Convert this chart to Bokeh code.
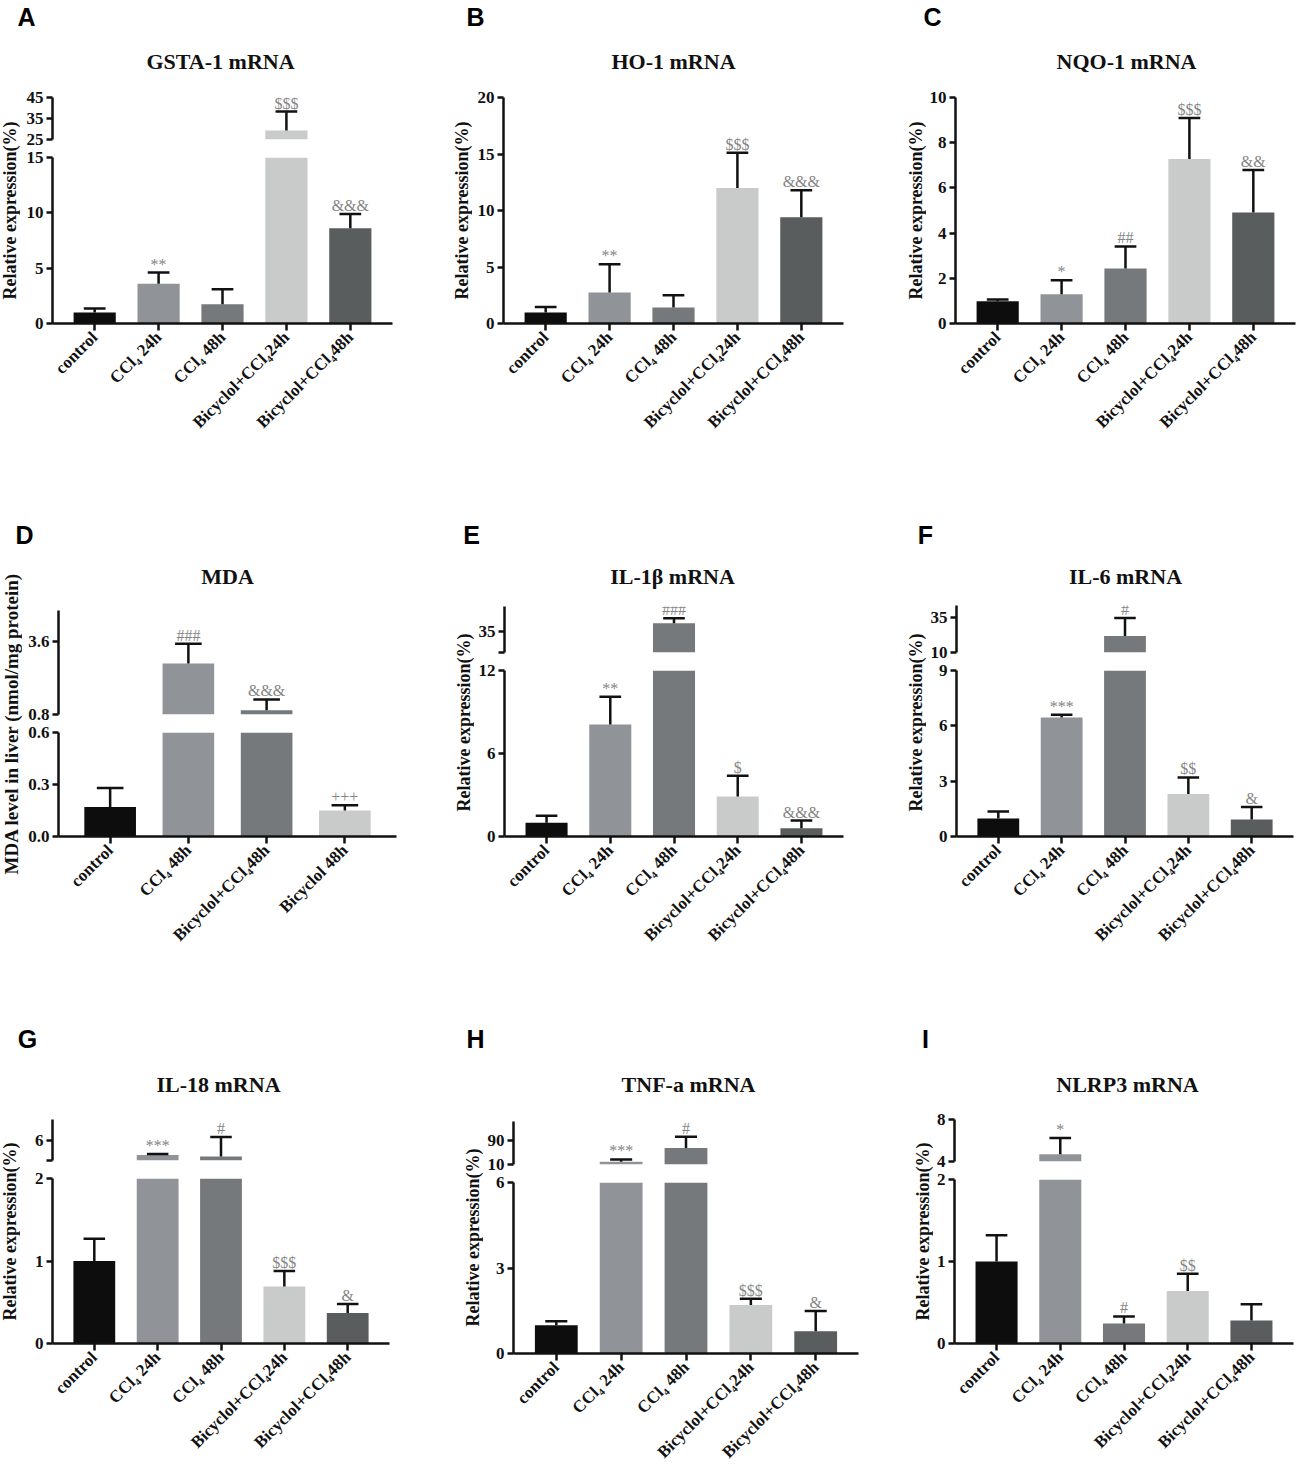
from math import pi
from bokeh.plotting import figure
from bokeh.models import Range1d, FixedTicker, Label, LabelSet, ColumnDataSource
from bokeh.core.properties import value
from bokeh.layouts import row, column
from bokeh.embed import file_html
from bokeh.resources import INLINE

# ---------------- data ----------------
S4 = "\u2084"
groups5 = ["control", f"CCl{S4} 24h", f"CCl{S4} 48h", f"Bicyclol+CCl{S4}24h", f"Bicyclol+CCl{S4}48h"]
groups_mda = ["control", f"CCl{S4} 48h", f"Bicyclol+CCl{S4}48h", "Bicyclol 48h"]
colors5 = ["#0d0d0d", "#909397", "#76797b", "#c9cbca", "#595d5e"]
colors_mda = ["#0d0d0d", "#909397", "#76797b", "#c9cbca"]

gsta_mean = [1.0, 3.6, 1.75, 29.3, 8.6]
gsta_sd = [0.35, 1.0, 1.35, 9.0, 1.3]
gsta_marks = ["", "**", "", "$$$", "&&&"]

ho1_mean = [0.97, 2.74, 1.41, 12.0, 9.41]
ho1_sd = [0.5, 2.5, 1.09, 3.1, 2.39]
ho1_marks = ["", "**", "", "$$$", "&&&"]

nqo1_mean = [0.99, 1.29, 2.43, 7.28, 4.91]
nqo1_sd = [0.07, 0.62, 0.98, 1.81, 1.88]
nqo1_marks = ["", "*", "##", "$$$", "&&"]

mda_mean = [0.17, 2.76, 0.96, 0.15]
mda_sd = [0.11, 0.76, 0.42, 0.03]
mda_marks = ["", "###", "&&&", "+++"]

il1b_mean = [1.0, 8.1, 37.0, 2.9, 0.6]
il1b_sd = [0.5, 2.0, 1.2, 1.5, 0.55]
il1b_marks = ["", "**", "###", "$", "&&&"]

il6_mean = [0.98, 6.45, 21.9, 2.3, 0.92]
il6_sd = [0.38, 0.15, 13.1, 0.9, 0.68]
il6_marks = ["", "***", "#", "$$", "&"]

il18_mean = [1.0, 4.54, 4.38, 0.69, 0.37]
il18_sd = [0.27, 0.1, 1.92, 0.19, 0.11]
il18_marks = ["", "***", "#", "$$$", "&"]

tnfa_mean = [0.99, 19.0, 66.0, 1.7, 0.78]
tnfa_sd = [0.14, 8.0, 37.5, 0.22, 0.71]
tnfa_marks = ["", "***", "#", "$$$", "&"]

nlrp3_mean = [1.0, 4.7, 0.245, 0.64, 0.28]
nlrp3_sd = [0.32, 1.54, 0.085, 0.21, 0.2]
nlrp3_marks = ["", "*", "#", "$$", ""]

# axis segments: (range, ticks, tick labels)
gsta_lower = ((0, 15), [0, 5, 10, 15], ["0", "5", "10", "15"])
gsta_upper = ((25, 45), [25, 35, 45], ["25", "35", "45"])
ho1_lower = ((0, 20), [0, 5, 10, 15, 20], ["0", "5", "10", "15", "20"])
nqo1_lower = ((0, 10), [0, 2, 4, 6, 8, 10], ["0", "2", "4", "6", "8", "10"])
mda_lower = ((0, 0.6), [0, 0.3, 0.6], ["0.0", "0.3", "0.6"])
mda_upper = ((0.8, 4.8), [0.8, 3.6], ["0.8", "3.6"])
il1b_lower = ((0, 12), [0, 6, 12], ["0", "6", "12"])
il1b_upper = ((30, 41), [30, 35], ["", "35"])
il6_lower = ((0, 9), [0, 3, 6, 9], ["0", "3", "6", "9"])
il6_upper = ((10, 44), [10, 35], ["10", "35"])
il18_lower = ((0, 2), [0, 1, 2], ["0", "1", "2"])
il18_upper = ((4, 8), [4, 6], ["", "6"])
tnfa_lower = ((0, 6), [0, 3, 6], ["0", "3", "6"])
tnfa_upper = ((10, 155), [10, 90], ["10", "90"])
nlrp3_lower = ((0, 2), [0, 1, 2], ["0", "1", "2"])
nlrp3_upper = ((4, 8), [4, 8], ["4", "8"])

REL = "Relative expression(%)"

# ---------------- layout geometry (page pixels) ----------------
COLS = [(0, 430), (430, 430), (860, 438)]                   # left, width
ROWS = [(0, 510, 40), (510, 500, 552), (1010, 462, 1056)]   # top, height, letter-band bottom

SERIF = "Liberation Serif"
SANS = "Liberation Sans"
INK = "#111111"
BAR_W = 0.66
CAP = 0.17
PAD = 0.66


def style_y(ax, ticks, labels):
    ax.ticker = FixedTicker(ticks=ticks)
    ax.major_label_overrides = {t: l for t, l in zip(ticks, labels)}
    ax.axis_line_width = 2.5
    ax.axis_line_color = INK
    ax.major_tick_line_width = 2.5
    ax.major_tick_line_color = INK
    ax.major_tick_out = 6
    ax.major_tick_in = 0
    ax.minor_tick_line_color = None
    ax.major_label_standoff = 3
    ax.major_label_text_font = SERIF
    ax.major_label_text_font_style = "bold"
    ax.major_label_text_font_size = "17px"
    ax.major_label_text_color = INK


def style_x(ax, cats):
    ax.ticker = FixedTicker(ticks=list(range(len(cats))))
    ax.major_label_overrides = {i: c for i, c in enumerate(cats)}
    ax.major_label_orientation = pi / 4
    ax.axis_line_width = 2.5
    ax.axis_line_color = INK
    ax.major_tick_line_width = 2.5
    ax.major_tick_line_color = INK
    ax.major_tick_out = 7
    ax.major_tick_in = 0
    ax.minor_tick_line_color = None
    ax.major_label_standoff = 4
    ax.major_label_text_font = SERIF
    ax.major_label_text_font_style = "bold"
    ax.major_label_text_font_size = "17px"
    ax.major_label_text_color = INK


def blank_fig(w, h, left=0, right=0):
    p = figure(width=w, height=h, x_range=Range1d(0, 1), y_range=Range1d(0, 1),
               x_axis_location=None, y_axis_location=None, output_backend="svg",
               toolbar_location=None, min_border=0,
               min_border_left=left, min_border_right=right,
               min_border_top=0, min_border_bottom=0)
    p.outline_line_color = None
    p.grid.grid_line_color = None
    return p


def data_fig(w, h, cats, colors, mean, sd, marks, seg, borders, with_x, upper_part):
    (y0, y1), ticks, labels = seg
    left, right, top, bottom = borders
    n = len(cats)
    p = figure(width=w, height=h, x_range=Range1d(-PAD, n - 1 + PAD), y_range=Range1d(y0, y1),
               x_axis_location="below" if with_x else None, y_axis_location="left",
               output_backend="svg", toolbar_location=None,
               min_border_left=left, min_border_right=right,
               min_border_top=top, min_border_bottom=bottom)
    p.outline_line_color = None
    p.grid.grid_line_color = None
    tops = [m + s for m, s in zip(mean, sd)]
    # only what falls inside this segment of the (broken) axis
    bar_i = [i for i in range(n) if mean[i] > y0]
    err_i = [i for i in range(n) if tops[i] > y0 and mean[i] < y1]
    bsrc = ColumnDataSource(dict(x=bar_i, mean=[mean[i] for i in bar_i],
                                 color=[colors[i] for i in bar_i]))
    p.vbar(x="x", top="mean", bottom=y0, width=BAR_W, fill_color="color",
           line_color=None, source=bsrc)
    esrc = ColumnDataSource(dict(x=err_i, mean=[mean[i] for i in err_i],
                                 top=[tops[i] for i in err_i],
                                 xl=[i - CAP for i in err_i], xr=[i + CAP for i in err_i]))
    p.segment(x0="x", y0="mean", x1="x", y1="top", line_width=2.5, line_color=INK, source=esrc)
    p.segment(x0="xl", y0="top", x1="xr", y1="top", line_width=2.5, line_color=INK, source=esrc)
    if upper_part:
        keep = [i for i in range(n) if marks[i] and tops[i] >= y0]
    else:
        keep = [i for i in range(n) if marks[i] and tops[i] <= y1]
    msrc = ColumnDataSource(dict(x=keep, y=[tops[i] for i in keep], t=[marks[i] for i in keep]))
    p.add_layout(LabelSet(x="x", y="y", text="t", source=msrc, text_align="center",
                          text_baseline="alphabetic", y_offset=3,
                          text_font=value(SERIF), text_font_size=value("16px"),
                          text_color="#858585"))
    style_y(p.yaxis[0], ticks, labels)
    if with_x:
        style_x(p.xaxis[0], cats)
    return p


def panel(ci, ri, letter, letter_xy, title, title_xy, ylabel, ylab_xy, ylab_size,
          cats, colors, mean, sd, marks, lower, upper, yaxis_x, frame_r, up_px, lo_px):
    px0, pw = COLS[ci]
    rt, rh, hb = ROWS[ri]
    rend = rt + rh
    hh = hb - rt
    mh = rend - hb
    sw = ylab_xy[0] - px0 + 11
    # band with the panel letter
    head = blank_fig(pw, hh)
    head.add_layout(Label(x=letter_xy[0] - px0, y=hh - (letter_xy[1] - rt), x_units="screen",
                          y_units="screen", text=letter, text_font=SANS, text_font_style="bold",
                          text_font_size="25px", text_color="#000000", text_align="center",
                          text_baseline="middle"))
    # strip with the y axis title
    strip = blank_fig(sw, mh)
    strip.add_layout(Label(x=ylab_xy[0] - px0, y=rend - ylab_xy[1], x_units="screen",
                           y_units="screen", text=ylabel, angle=pi / 2, text_font=SERIF,
                           text_font_style="bold", text_font_size=ylab_size, text_color=INK,
                           text_align="center", text_baseline="middle"))
    mw = pw - sw
    left = yaxis_x - (px0 + sw)
    right = px0 + pw - frame_r
    # band with the chart title, over the plotting frame
    tb = title_xy[1] + 14
    th = tb - hb
    thead = blank_fig(mw, th, left, right)
    thead.add_layout(Label(x=title_xy[0] - yaxis_x, y=th - (title_xy[1] - hb),
                           x_units="screen", y_units="screen", text=title, text_font=SERIF,
                           text_font_style="bold", text_font_size="22px", text_color=INK,
                           text_align="center", text_baseline="middle"))
    rest = mh - th
    lo_top, lo_bot = lo_px
    if upper is None:
        p = data_fig(mw, rest, cats, colors, mean, sd, marks, lower,
                     (left, right, lo_top - tb, rend - lo_bot), True, False)
        figs = [thead, p]
    else:
        up_top, up_bot = up_px
        gap = lo_top - up_bot
        g1 = gap // 2
        g2 = gap - g1
        hu = (up_top - tb) + (up_bot - up_top) + g1
        hl = rest - hu
        pu = data_fig(mw, hu, cats, colors, mean, sd, marks, upper,
                      (left, right, up_top - tb, g1), False, True)
        pl = data_fig(mw, hl, cats, colors, mean, sd, marks, lower,
                      (left, right, g2, rend - lo_bot), True, False)
        figs = [thead, pu, pl]
    return column(head, row(strip, column(*figs, spacing=0), spacing=0), spacing=0)


pA = panel(0, 0, "A", (26, 16), "GSTA-1 mRNA", (220, 61), REL, (9, 210), "18px",
           groups5, colors5, gsta_mean, gsta_sd, gsta_marks, gsta_lower, gsta_upper,
           52, 392, (97, 139), (157, 323))
pB = panel(1, 0, "B", (475, 16), "HO-1 mRNA", (673, 61), REL, (461, 210), "18px",
           groups5, colors5, ho1_mean, ho1_sd, ho1_marks, ho1_lower, None,
           503, 843, None, (97, 323))
pC = panel(2, 0, "C", (932, 16), "NQO-1 mRNA", (1126, 61), REL, (915, 210), "18px",
           groups5, colors5, nqo1_mean, nqo1_sd, nqo1_marks, nqo1_lower, None,
           955, 1295, None, (97, 323))
pD = panel(0, 1, "D", (24, 534), "MDA", (227, 576), "MDA level in liver (nmol/mg protein)",
           (11, 723), "19px", groups_mda, colors_mda, mda_mean, mda_sd, mda_marks,
           mda_lower, mda_upper, 58, 396, (610, 714), (732, 836))
pE = panel(1, 1, "E", (471, 534), "IL-1\u03b2 mRNA", (672, 576), REL, (463, 722), "18px",
           groups5, colors5, il1b_mean, il1b_sd, il1b_marks, il1b_lower, il1b_upper,
           504, 843, (606, 652), (670, 836))
pF = panel(2, 1, "F", (925, 534), "IL-6 mRNA", (1125, 576), REL, (915, 722), "18px",
           groups5, colors5, il6_mean, il6_sd, il6_marks, il6_lower, il6_upper,
           956, 1293, (605, 652), (670, 836))
pG = panel(0, 2, "G", (27, 1038), "IL-18 mRNA", (218, 1084), REL, (9, 1231), "18px",
           groups5, colors5, il18_mean, il18_sd, il18_marks, il18_lower, il18_upper,
           52, 389, (1119, 1160), (1178, 1343))
pH = panel(1, 2, "H", (475, 1038), "TNF-a mRNA", (688, 1084), REL, (472, 1237), "18px",
           groups5, colors5, tnfa_mean, tnfa_sd, tnfa_marks, tnfa_lower, tnfa_upper,
           513, 858, (1121, 1164), (1182, 1353))
pI = panel(2, 2, "I", (925, 1038), "NLRP3 mRNA", (1125, 1084), REL, (922, 1231), "18px",
           groups5, colors5, nlrp3_mean, nlrp3_sd, nlrp3_marks, nlrp3_lower, nlrp3_upper,
           952, 1293, (1119, 1161), (1179, 1343))

layout = column(row(pA, pB, pC, spacing=0), row(pD, pE, pF, spacing=0),
                row(pG, pH, pI, spacing=0), spacing=0)

open("out.html", "w").write(file_html(layout, INLINE))
